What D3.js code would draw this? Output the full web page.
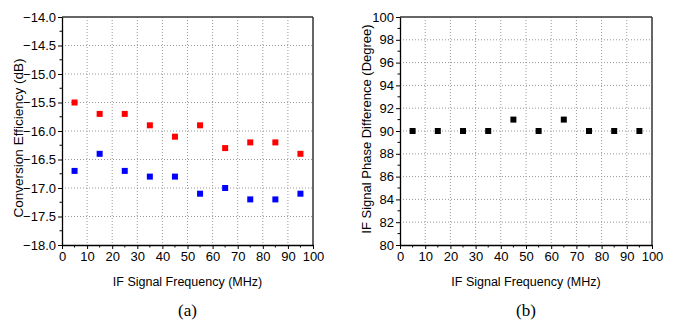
<!DOCTYPE html>
<html><head><meta charset="utf-8">
<script src="https://cdn.jsdelivr.net/npm/d3@7/dist/d3.min.js"></script>
<style>body{margin:0;background:#fff}svg{display:block}</style>
</head><body><svg id="c" width="674" height="320" font-family="Liberation Sans, Arial, sans-serif"></svg>
<script>
const freqs = [5,15,25,35,45,55,65,75,85,95];
const convRed = [-15.5,-15.7,-15.7,-15.9,-16.1,-15.9,-16.3,-16.2,-16.2,-16.4];
const convBlue = [-16.7,-16.4,-16.7,-16.8,-16.8,-17.1,-17.0,-17.2,-17.2,-17.1];
const phase = [90,90,90,90,91,90,91,90,90,90];
const xTicks = [0,10,20,30,40,50,60,70,80,90,100];
const yTicksA = [-18.0,-17.5,-17.0,-16.5,-16.0,-15.5,-15.0,-14.5,-14.0];
const yTicksB = [80,82,84,86,88,90,92,94,96,98,100];

const svg = d3.select("#c");

function panel(o){
  const g = svg.append("g");
  const x = d3.scaleLinear().domain([0,100]).range([o.x0,o.x1]);
  const y = d3.scaleLinear().domain(o.ydom).range([o.y1,o.y0]);
  g.append("g").selectAll("line").data(xTicks.slice(1,-1)).join("line")
    .attr("x1",d=>x(d)).attr("x2",d=>x(d)).attr("y1",o.y0).attr("y2",o.y1)
    .attr("stroke","#999").attr("stroke-width",1).attr("stroke-dasharray","1,2");
  g.append("g").selectAll("line").data(o.yticks.slice(1,-1)).join("line")
    .attr("y1",d=>y(d)).attr("y2",d=>y(d)).attr("x1",o.x0).attr("x2",o.x1)
    .attr("stroke","#999").attr("stroke-width",1).attr("stroke-dasharray","1,2");
  g.append("line").attr("x1",o.x0).attr("x2",o.x1).attr("y1",o.y0).attr("y2",o.y0).attr("stroke","#333").attr("stroke-width",1.5);
  g.append("line").attr("x1",o.x1).attr("x2",o.x1).attr("y1",o.y0).attr("y2",o.y1).attr("stroke","#333").attr("stroke-width",1.5);
  const xMinor = d3.range(5,100,10);
  g.append("g").selectAll("line").data(xMinor).join("line")
    .attr("x1",d=>x(d)).attr("x2",d=>x(d)).attr("y1",o.y1).attr("y2",o.y1+2.5)
    .attr("stroke","#000");
  const yMinor = d3.range(o.yticks.length-1).map(i=>(o.yticks[i]+o.yticks[i+1])/2);
  g.append("g").selectAll("line").data(yMinor).join("line")
    .attr("y1",d=>y(d)).attr("y2",d=>y(d)).attr("x1",o.x0-2.5).attr("x2",o.x0)
    .attr("stroke","#000");
  const xa = g.append("g").attr("transform",`translate(0,${o.y1})`)
    .call(d3.axisBottom(x).tickValues(xTicks).tickSize(4).tickSizeOuter(0).tickPadding(3).tickFormat(d3.format("d")));
  const ya = g.append("g").attr("transform",`translate(${o.x0},0)`)
    .call(d3.axisLeft(y).tickValues(o.yticks).tickSize(4).tickSizeOuter(0).tickPadding(2).tickFormat(o.fmt));
  [xa,ya].forEach(a=>{
    a.attr("font-family","Liberation Sans, Arial, sans-serif").attr("font-size",13);
    a.select(".domain").attr("stroke","#000").attr("stroke-width",1.3);
    a.selectAll(".tick line").attr("stroke","#000");
    a.selectAll("text").attr("fill","#000");
  });
  o.series.forEach(s=>{
    g.append("g").selectAll("rect").data(freqs.map((f,i)=>[f,s.vals[i]])).join("rect")
      .attr("x",d=>x(d[0])-3).attr("y",d=>y(d[1])-3).attr("width",6).attr("height",6)
      .attr("fill",s.color);
  });
  g.append("text").attr("x",(o.x0+o.x1)/2).attr("y",286).attr("text-anchor","middle")
    .attr("font-size",12.5).text("IF Signal Frequency (MHz)");
  g.append("text").attr("transform",`translate(${o.ytx},${o.ytc}) rotate(-90)`)
    .attr("text-anchor","middle").attr("font-size",o.yts).text(o.ytitle);
  g.append("text").attr("x",(o.x0+o.x1)/2).attr("y",316).attr("text-anchor","middle")
    .attr("font-size",17).attr("font-family","Liberation Serif, Times New Roman, serif").text(o.label);
}

panel({x0:62,x1:313,y0:17,y1:245,ydom:[-18,-14],yticks:yTicksA,fmt:d3.format(".1f"),
  series:[{vals:convRed,color:"#ff0000"},{vals:convBlue,color:"#0000ff"}],
  ytitle:"Conversion Efficiency (dB)",ytx:23,ytc:138,yts:13.5,label:"(a)"});
panel({x0:400,x1:652,y0:17,y1:245,ydom:[80,100],yticks:yTicksB,fmt:d3.format("d"),
  series:[{vals:phase,color:"#000"}],
  ytitle:"IF Signal Phase Difference (Degree)",ytx:371,ytc:129,yts:13,label:"(b)"});
</script></body></html>
